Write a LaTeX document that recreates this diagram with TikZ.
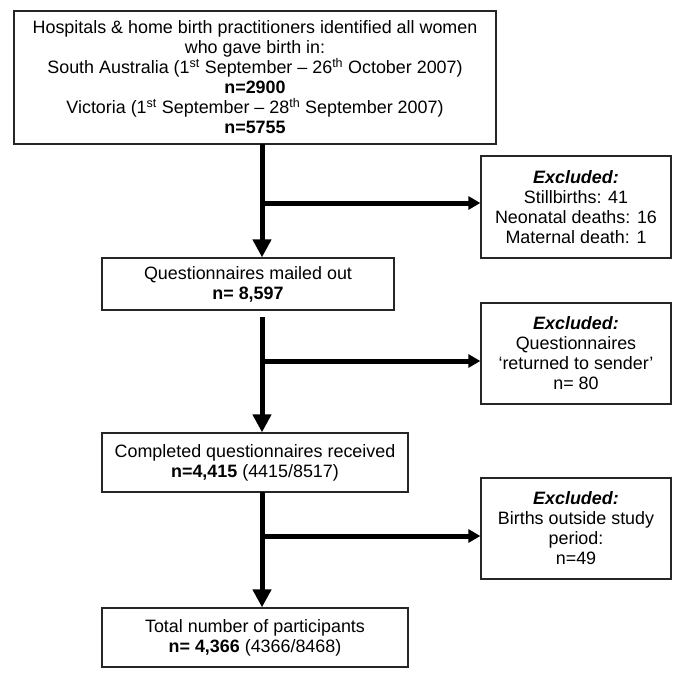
\documentclass[tikz,border=0pt]{standalone}
\usepackage{fontspec}
\setmainfont{Liberation Sans}
\usetikzlibrary{arrows.meta}
\begin{document}
\begin{tikzpicture}[x=1pt,y=-1pt,
  box/.style={draw=black!85, line width=1.3pt, rectangle, align=center, inner sep=0pt,
    font=\fontsize{17.9}{20}\selectfont},
  vflow/.style={line width=5pt, -{Triangle[width=18pt,length=18pt]}},
  hflow/.style={line width=5pt, -{Triangle[width=13pt,length=12pt]}}]
\useasboundingbox (0,0) rectangle (685,678);
\node[box, minimum width=482pt, minimum height=133pt] (top) at (255,77.5)
  {Hospitals \& home birth practitioners identified all women\\
   who gave birth in:\\
   South Australia (1\textsuperscript{st} September -- 26\textsuperscript{th} October 2007)\\
   \textbf{n=2900}\\
   Victoria (1\textsuperscript{st} September -- 28\textsuperscript{th} September 2007)\\
   \textbf{n=5755}};
\node[box, minimum width=292pt, minimum height=52pt] (mail) at (248,284)
  {Questionnaires mailed out\\ \textbf{n= 8,597}};
\node[box, minimum width=306pt, minimum height=59pt] (recv) at (255,462.5)
  {Completed questionnaires received\\ \textbf{n=4,415} (4415/8517)};
\node[box, minimum width=306pt, minimum height=59pt] (total) at (255,637.5)
  {Total number of participants\\ \textbf{n= 4,366} (4366/8468)};
\node[box, minimum width=190pt, minimum height=102pt] (ex1) at (576,207)
  {\textbf{\textit{Excluded:}}\\ Stillbirths: 41\\ Neonatal deaths: 16\\ Maternal death: 1};
\node[box, minimum width=190pt, minimum height=101pt] (ex2) at (576,353.5)
  {\textbf{\textit{Excluded:}}\\ Questionnaires\\ `returned to sender'\\ n= 80};
\node[box, minimum width=190pt, minimum height=101pt] (ex3) at (576,528.5)
  {\textbf{\textit{Excluded:}}\\ Births outside study\\ period:\\ n=49};
\coordinate (c1) at (262,144);
\coordinate (c2) at (262,317);
\coordinate (c3) at (262,492);
\coordinate (j1) at (262,203);
\coordinate (j2) at (262,361);
\coordinate (j3) at (262,536);
\draw[vflow] (c1) -- (c1 |- mail.north);
\draw[vflow] (c2) -- (c2 |- recv.north);
\draw[vflow] (c3) -- (c3 |- total.north);
\draw[hflow] (j1) -- (j1 -| ex1.west);
\draw[hflow] (j2) -- (j2 -| ex2.west);
\draw[hflow] (j3) -- (j3 -| ex3.west);
\end{tikzpicture}
\end{document}
